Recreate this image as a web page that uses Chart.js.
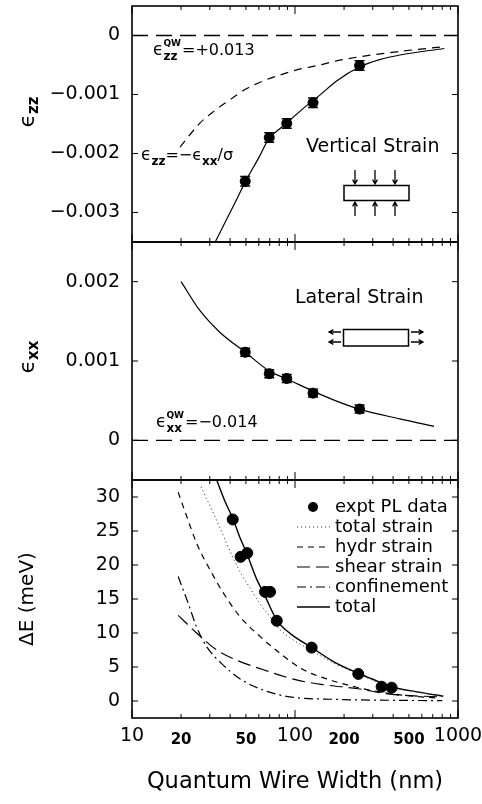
<!DOCTYPE html>
<html>
<head>
<meta charset="utf-8">
<script src="https://cdn.jsdelivr.net/npm/chart.js@4"></script>
<style>
  html, body { margin: 0; padding: 0; background: #fff; }
  #wrap { position: relative; width: 482px; height: 804px; overflow: hidden; }
  #wrap canvas { position: absolute; left: 0; }
</style>
</head>
<body>
<div id="wrap">
  <canvas id="c-zz" width="482" height="250" style="top:0px"></canvas>
  <canvas id="c-xx" width="482" height="254" style="top:234px"></canvas>
  <canvas id="c-de" width="482" height="332" style="top:472px"></canvas>
</div>
<script>
// shared x axis (quantum wire width, nm)
const xTickValues = [10, 20, 30, 40, 50, 60, 70, 80, 90, 100, 200, 300, 400, 500, 600, 700, 800, 900, 1000];
const xMajor = [10, 100, 1000];
const xLabelValues = [10, 20, 50, 100, 200, 500, 1000];
const xTickLabels = ['10', '20', '50', '100', '200', '500', '1000'];

// panel 1: vertical strain
const y1Ticks = [0, -0.001, -0.002, -0.003];
const y1Labels = ['0', '\u22120.001', '\u22120.002', '\u22120.003'];
const strainWidths = [49.5, 69.5, 89, 129, 249];
const ezzMeas = [-0.00247, -0.00173, -0.00149, -0.00114, -0.00051];
const ezzErr = [0.00008, 0.00008, 0.00008, 0.00008, 0.00008];
const ezzFitX = [32.4, 38, 44, 50, 60, 69.5, 80, 90, 112, 142, 180, 250, 330, 440, 824];
const ezzFitY = [-0.0035, -0.00312, -0.00277, -0.00246, -0.00207, -0.00174, -0.00159, -0.00147, -0.00124, -0.00101, -0.00077, -0.00053, -0.00041, -0.00033, -0.00022];
const ezzPoisX = [19.7, 26, 31.6, 38, 50.6, 65, 81, 100, 142, 180, 250, 440, 810];
const ezzPoisY = [-0.00189, -0.00149, -0.00129, -0.00113, -0.0009, -0.00076, -0.00067, -0.00059, -0.0005, -0.00043, -0.00036, -0.00027, -0.00019];

// panel 2: lateral strain
const y2Ticks = [0, 0.001, 0.002];
const y2Labels = ['0', '0.001', '0.002'];
const exxMeas = [0.00111, 0.00084, 0.00078, 0.000595, 0.000394];
const exxErr = [0.00005, 0.00005, 0.00005, 0.00005, 0.00005];
const exxFitX = [20, 26, 34.7, 49.6, 70, 90, 129, 172, 250, 440, 713];
const exxFitY = [0.002, 0.00164, 0.00136, 0.00111, 0.00087, 0.00077, 0.00062, 0.00051, 0.00039, 0.00027, 0.000176];

// panel 3: energy shift
const y3Ticks = [0, 5, 10, 15, 20, 25, 30];
const y3Labels = ['0', '5', '10', '15', '20', '25', '30'];
const plX = [41.5, 46.4, 50.9, 65.5, 70.3, 77.3, 126.5, 244.5, 340, 391.6];
const plY = [26.7, 21.2, 21.75, 16.05, 16.05, 11.8, 7.85, 3.98, 2.1, 1.96];
const totStrainX = [26.5, 31.6, 36.5, 41.8, 47, 53, 61, 70.3, 80, 100, 127, 172, 244, 392, 813];
const totStrainY = [31.5, 27.6, 24.2, 21.0, 18.6, 16.6, 14.3, 12.4, 10.6, 8.8, 7.4, 5.6, 3.95, 2.05, 0.7];
const hydrX = [19.2, 21.7, 24.9, 30.1, 36.3, 46, 61, 81, 112.5, 164, 288, 440, 776];
const hydrY = [30.7, 27.1, 23.2, 19.3, 15.9, 12.4, 9.5, 7.0, 4.6, 3.1, 1.6, 0.9, 0.4];
const shearX = [19.2, 24.9, 33.1, 43.9, 64, 102, 150, 244, 383, 776];
const shearY = [12.6, 10.0, 7.5, 6.0, 4.6, 3.1, 2.4, 1.8, 1.0, 0.6];
const confX = [19.2, 22.1, 24.9, 28.7, 35.5, 47.1, 64, 93, 171, 400, 800];
const confY = [18.3, 14.4, 10.9, 8.0, 5.5, 3.1, 1.6, 0.6, 0.25, 0.1, 0.05];
const totalX = [33.1, 37, 41.8, 46, 50.6, 58, 65, 77.3, 95, 127, 172, 244, 300, 392, 550, 813];
const totalY = [32.5, 29.5, 26.7, 24, 21.7, 18, 15.6, 11.9, 9.8, 7.85, 5.8, 4.08, 3.2, 2.1, 1.37, 0.7];

const FONT = '"DejaVu Sans", sans-serif';
Chart.defaults.font.family = FONT;
Chart.defaults.color = '#000';

const pts = (xs, ys) => xs.map((x, i) => ({ x, y: ys[i] }));

function curve(label, xs, ys, dash, extra = {}) {
  return { label, data: pts(xs, ys), showLine: true, pointRadius: 0, borderColor: '#000', borderWidth: 1.2,
    borderDash: dash, fill: false, cubicInterpolationMode: 'monotone', ...extra };
}

function noPad(s) { s.paddingTop = 0; s.paddingBottom = 0; s.paddingLeft = 0; s.paddingRight = 0; }

function xScale(show) {
  return {
    type: 'logarithmic', min: 10, max: 1000, display: show,
    afterBuildTicks: (s) => { s.ticks = xTickValues.map((v) => ({ value: v })); },
    afterFit: (s) => { if (show) s.height = 86; noPad(s); },
    grid: { display: false, drawTicks: false }, border: { display: false },
    ticks: {
      autoSkip: false, maxRotation: 0, minRotation: 0, padding: 7, color: '#000',
      callback: (v) => { const i = xLabelValues.indexOf(v); return i < 0 ? '' : xTickLabels[i]; },
      font: (c) => (c.tick && xMajor.includes(c.tick.value))
        ? { family: FONT, size: 19, lineHeight: 1.2 }
        : { family: FONT, size: 15, weight: 'bold', lineHeight: 2.05 },
    },
    title: { display: show, text: 'Quantum Wire Width (nm)', font: { family: FONT, size: 22.5 }, padding: { top: 0, bottom: 8 } },
  };
}

function yScale(min, max, ticks, labels, title) {
  return {
    min, max,
    afterBuildTicks: (s) => { s.ticks = ticks.map((v) => ({ value: v })); },
    afterFit: (s) => { s.width = 132; noPad(s); },
    grid: { display: false, drawTicks: false }, border: { display: false },
    ticks: { padding: 12, font: { family: FONT, size: 19 }, callback: (v, i) => labels[i] },
    title: title ? { display: true, text: title, font: { family: FONT, size: 20 }, padding: { top: 16, bottom: 0 } } : { display: false },
  };
}

// frame with inward ticks on all four sides
const framePlugin = {
  id: 'frame',
  afterDraw(chart) {
    const { ctx, chartArea: a } = chart;
    const x = chart.scales.x, y = chart.scales.y;
    ctx.save();
    ctx.strokeStyle = '#000';
    ctx.lineWidth = 1.6;
    ctx.strokeRect(a.left, a.top, a.right - a.left, a.bottom - a.top);
    ctx.lineWidth = 1;
    ctx.beginPath();
    xTickValues.forEach((v) => {
      const px = x.getPixelForValue(v);
      const len = xMajor.includes(v) ? 8 : 4;
      ctx.moveTo(px, a.bottom); ctx.lineTo(px, a.bottom - len);
      ctx.moveTo(px, a.top); ctx.lineTo(px, a.top + len);
    });
    y.ticks.forEach((t) => {
      const py = y.getPixelForValue(t.value);
      ctx.moveTo(a.left, py); ctx.lineTo(a.left + 6, py);
      ctx.moveTo(a.right, py); ctx.lineTo(a.right - 6, py);
    });
    ctx.stroke();
    ctx.restore();
  },
};

const errorBarPlugin = {
  id: 'errorBars',
  afterDatasetsDraw(chart) {
    const { ctx } = chart;
    const y = chart.scales.y;
    chart.data.datasets.forEach((ds, i) => {
      if (!ds.errors) return;
      const meta = chart.getDatasetMeta(i);
      ctx.save();
      ctx.strokeStyle = '#000';
      ctx.lineWidth = 1.5;
      meta.data.forEach((pt, j) => {
        const v = ds.data[j].y, e = ds.errors[j];
        const top = y.getPixelForValue(v + e), bot = y.getPixelForValue(v - e);
        ctx.beginPath();
        ctx.moveTo(pt.x, top); ctx.lineTo(pt.x, bot);
        ctx.moveTo(pt.x - 5, top); ctx.lineTo(pt.x + 5, top);
        ctx.moveTo(pt.x - 5, bot); ctx.lineTo(pt.x + 5, bot);
        ctx.stroke();
      });
      ctx.restore();
    });
  },
};

// draws runs of [text, size, dy, bold]; a nested list stacks sub/superscripts
function rich(ctx, x, y, parts) {
  parts.forEach((p) => {
    if (Array.isArray(p[0])) {
      let w = 0;
      p.forEach(([t, size, dy, bold]) => {
        ctx.font = (bold ? 'bold ' : '') + size + 'px ' + FONT;
        ctx.fillText(t, x, y + dy);
        w = Math.max(w, ctx.measureText(t).width);
      });
      x += w + 1;
    } else {
      const [t, size, dy, bold] = p;
      ctx.font = (bold ? 'bold ' : '') + size + 'px ' + FONT;
      ctx.fillText(t, x, y + dy);
      x += ctx.measureText(t).width;
    }
  });
  return x;
}

function yTitleEps(ctx, cx, cy, sub) {
  ctx.save();
  ctx.translate(cx, cy);
  ctx.rotate(-Math.PI / 2);
  ctx.font = '22px ' + FONT;
  const w1 = ctx.measureText('\u03f5').width;
  ctx.font = 'bold 15px ' + FONT;
  const w2 = ctx.measureText(sub).width;
  const x0 = -(w1 + w2) / 2;
  ctx.font = '22px ' + FONT;
  ctx.fillText('\u03f5', x0, 0);
  ctx.font = 'bold 15px ' + FONT;
  ctx.fillText(sub, x0 + w1, 4);
  ctx.restore();
}

function arrow(ctx, x1, y1, x2, y2) {
  const ang = Math.atan2(y2 - y1, x2 - x1);
  ctx.beginPath();
  ctx.moveTo(x1, y1); ctx.lineTo(x2, y2);
  ctx.moveTo(x2 - 5 * Math.cos(ang - 0.5), y2 - 5 * Math.sin(ang - 0.5));
  ctx.lineTo(x2, y2);
  ctx.lineTo(x2 - 5 * Math.cos(ang + 0.5), y2 - 5 * Math.sin(ang + 0.5));
  ctx.stroke();
}

const notesZZ = {
  id: 'notesZZ',
  afterDraw(chart) {
    const { ctx } = chart;
    ctx.save();
    ctx.fillStyle = '#000'; ctx.strokeStyle = '#000'; ctx.textBaseline = 'alphabetic';
    yTitleEps(ctx, 34, 112, 'zz');
    rich(ctx, 153, 55, [['\u03f5', 17, 0], [['zz', 12, 5, true], ['QW', 9, -9, true]], ['=+0.013', 16, 0]]);
    rich(ctx, 141, 160, [['\u03f5', 17, 0], ['zz', 12, 5, true], ['=\u2212\u03f5', 16, 0], ['xx', 12, 5, true], ['/\u03c3', 16, 0]]);
    ctx.font = '19px ' + FONT;
    ctx.fillText('Vertical Strain', 306, 151.5);
    ctx.lineWidth = 1.5;
    ctx.strokeRect(344, 185.5, 65, 15);
    ctx.lineWidth = 1.3;
    [355, 375, 395].forEach((ax) => { arrow(ctx, ax, 170, ax, 184); arrow(ctx, ax, 216, ax, 202); });
    ctx.restore();
  },
};

const notesXX = {
  id: 'notesXX',
  afterDraw(chart) {
    const { ctx } = chart;
    ctx.save();
    ctx.translate(0, -234);
    ctx.fillStyle = '#000'; ctx.strokeStyle = '#000'; ctx.textBaseline = 'alphabetic';
    yTitleEps(ctx, 34, 357, 'xx');
    rich(ctx, 156, 427, [['\u03f5', 17, 0], [['xx', 12, 5, true], ['QW', 9, -9, true]], ['=\u22120.014', 16, 0]]);
    ctx.font = '19px ' + FONT;
    ctx.fillText('Lateral Strain', 295, 302.5);
    ctx.lineWidth = 1.5;
    ctx.strokeRect(343.5, 329.5, 65, 16.5);
    ctx.lineWidth = 1.3;
    [332, 342].forEach((ay) => { arrow(ctx, 341, ay, 329, ay); arrow(ctx, 411, ay, 423, ay); });
    ctx.restore();
  },
};

const legendDE = {
  id: 'legendDE',
  afterDraw(chart) {
    const { ctx } = chart;
    ctx.save();
    ctx.translate(0, -472);
    ctx.fillStyle = '#000'; ctx.strokeStyle = '#000';
    ctx.textBaseline = 'middle';
    chart.data.datasets.forEach((ds, i) => {
      const yy = 507 + i * 20;
      if (ds.showLine) {
        ctx.save();
        ctx.lineWidth = ds.borderWidth;
        ctx.strokeStyle = ds.borderColor;
        ctx.setLineDash(ds.borderDash || []);
        ctx.beginPath(); ctx.moveTo(297, yy); ctx.lineTo(330, yy); ctx.stroke();
        ctx.restore();
      } else {
        ctx.beginPath(); ctx.arc(313, yy, 5, 0, Math.PI * 2); ctx.fill();
      }
      ctx.font = '18px ' + FONT;
      ctx.fillText(ds.label, 335, yy);
    });
    ctx.restore();
  },
};

const common = { responsive: false, animation: false, events: [],
  plugins: { legend: { display: false }, tooltip: { enabled: false } } };

new Chart(document.getElementById('c-zz'), {
  type: 'scatter',
  data: { datasets: [
    { label: 'expt', data: pts(strainWidths, ezzMeas), errors: ezzErr, pointRadius: 5, backgroundColor: '#000', borderColor: '#000' },
    curve('fit', ezzFitX, ezzFitY, []),
    curve('poisson', ezzPoisX, ezzPoisY, [8, 6]),
    curve('zero', [10, 1000], [0, 0], [16, 8], { borderWidth: 1.3 }),
  ] },
  options: { ...common, layout: { padding: { left: 0, right: 24, top: 3, bottom: 8 } },
    scales: { x: xScale(false), y: yScale(-0.0035, 0.0005, y1Ticks, y1Labels) } },
  plugins: [framePlugin, errorBarPlugin, notesZZ],
});

new Chart(document.getElementById('c-xx'), {
  type: 'scatter',
  data: { datasets: [
    { label: 'expt', data: pts(strainWidths, exxMeas), errors: exxErr, pointRadius: 5, backgroundColor: '#000', borderColor: '#000' },
    curve('fit', exxFitX, exxFitY, []),
    curve('zero', [10, 1000], [0, 0], [16, 8], { borderWidth: 1.3 }),
  ] },
  options: { ...common, layout: { padding: { left: 0, right: 24, top: 8, bottom: 8 } },
    scales: { x: xScale(false), y: yScale(-0.0005, 0.0025, y2Ticks, y2Labels) } },
  plugins: [framePlugin, errorBarPlugin, notesXX],
});

new Chart(document.getElementById('c-de'), {
  type: 'scatter',
  data: { datasets: [
    { label: 'expt PL data', data: pts(plX, plY), pointRadius: 5.5, backgroundColor: '#000', borderColor: '#000' },
    curve('total strain', totStrainX, totStrainY, [1.2, 2.8], { borderColor: '#444', borderWidth: 1 }),
    curve('hydr strain', hydrX, hydrY, [6, 5]),
    curve('shear strain', shearX, shearY, [13, 6]),
    curve('confinement', confX, confY, [9, 4, 2, 4]),
    curve('total', totalX, totalY, [], { borderWidth: 1.4 }),
  ] },
  options: { ...common, layout: { padding: { left: 0, right: 24, top: 8, bottom: 0 } },
    scales: { x: xScale(true), y: yScale(-2.5, 32.5, y3Ticks, y3Labels, '\u0394E (meV)') } },
  plugins: [framePlugin, legendDE],
});
</script>
</body>
</html>
